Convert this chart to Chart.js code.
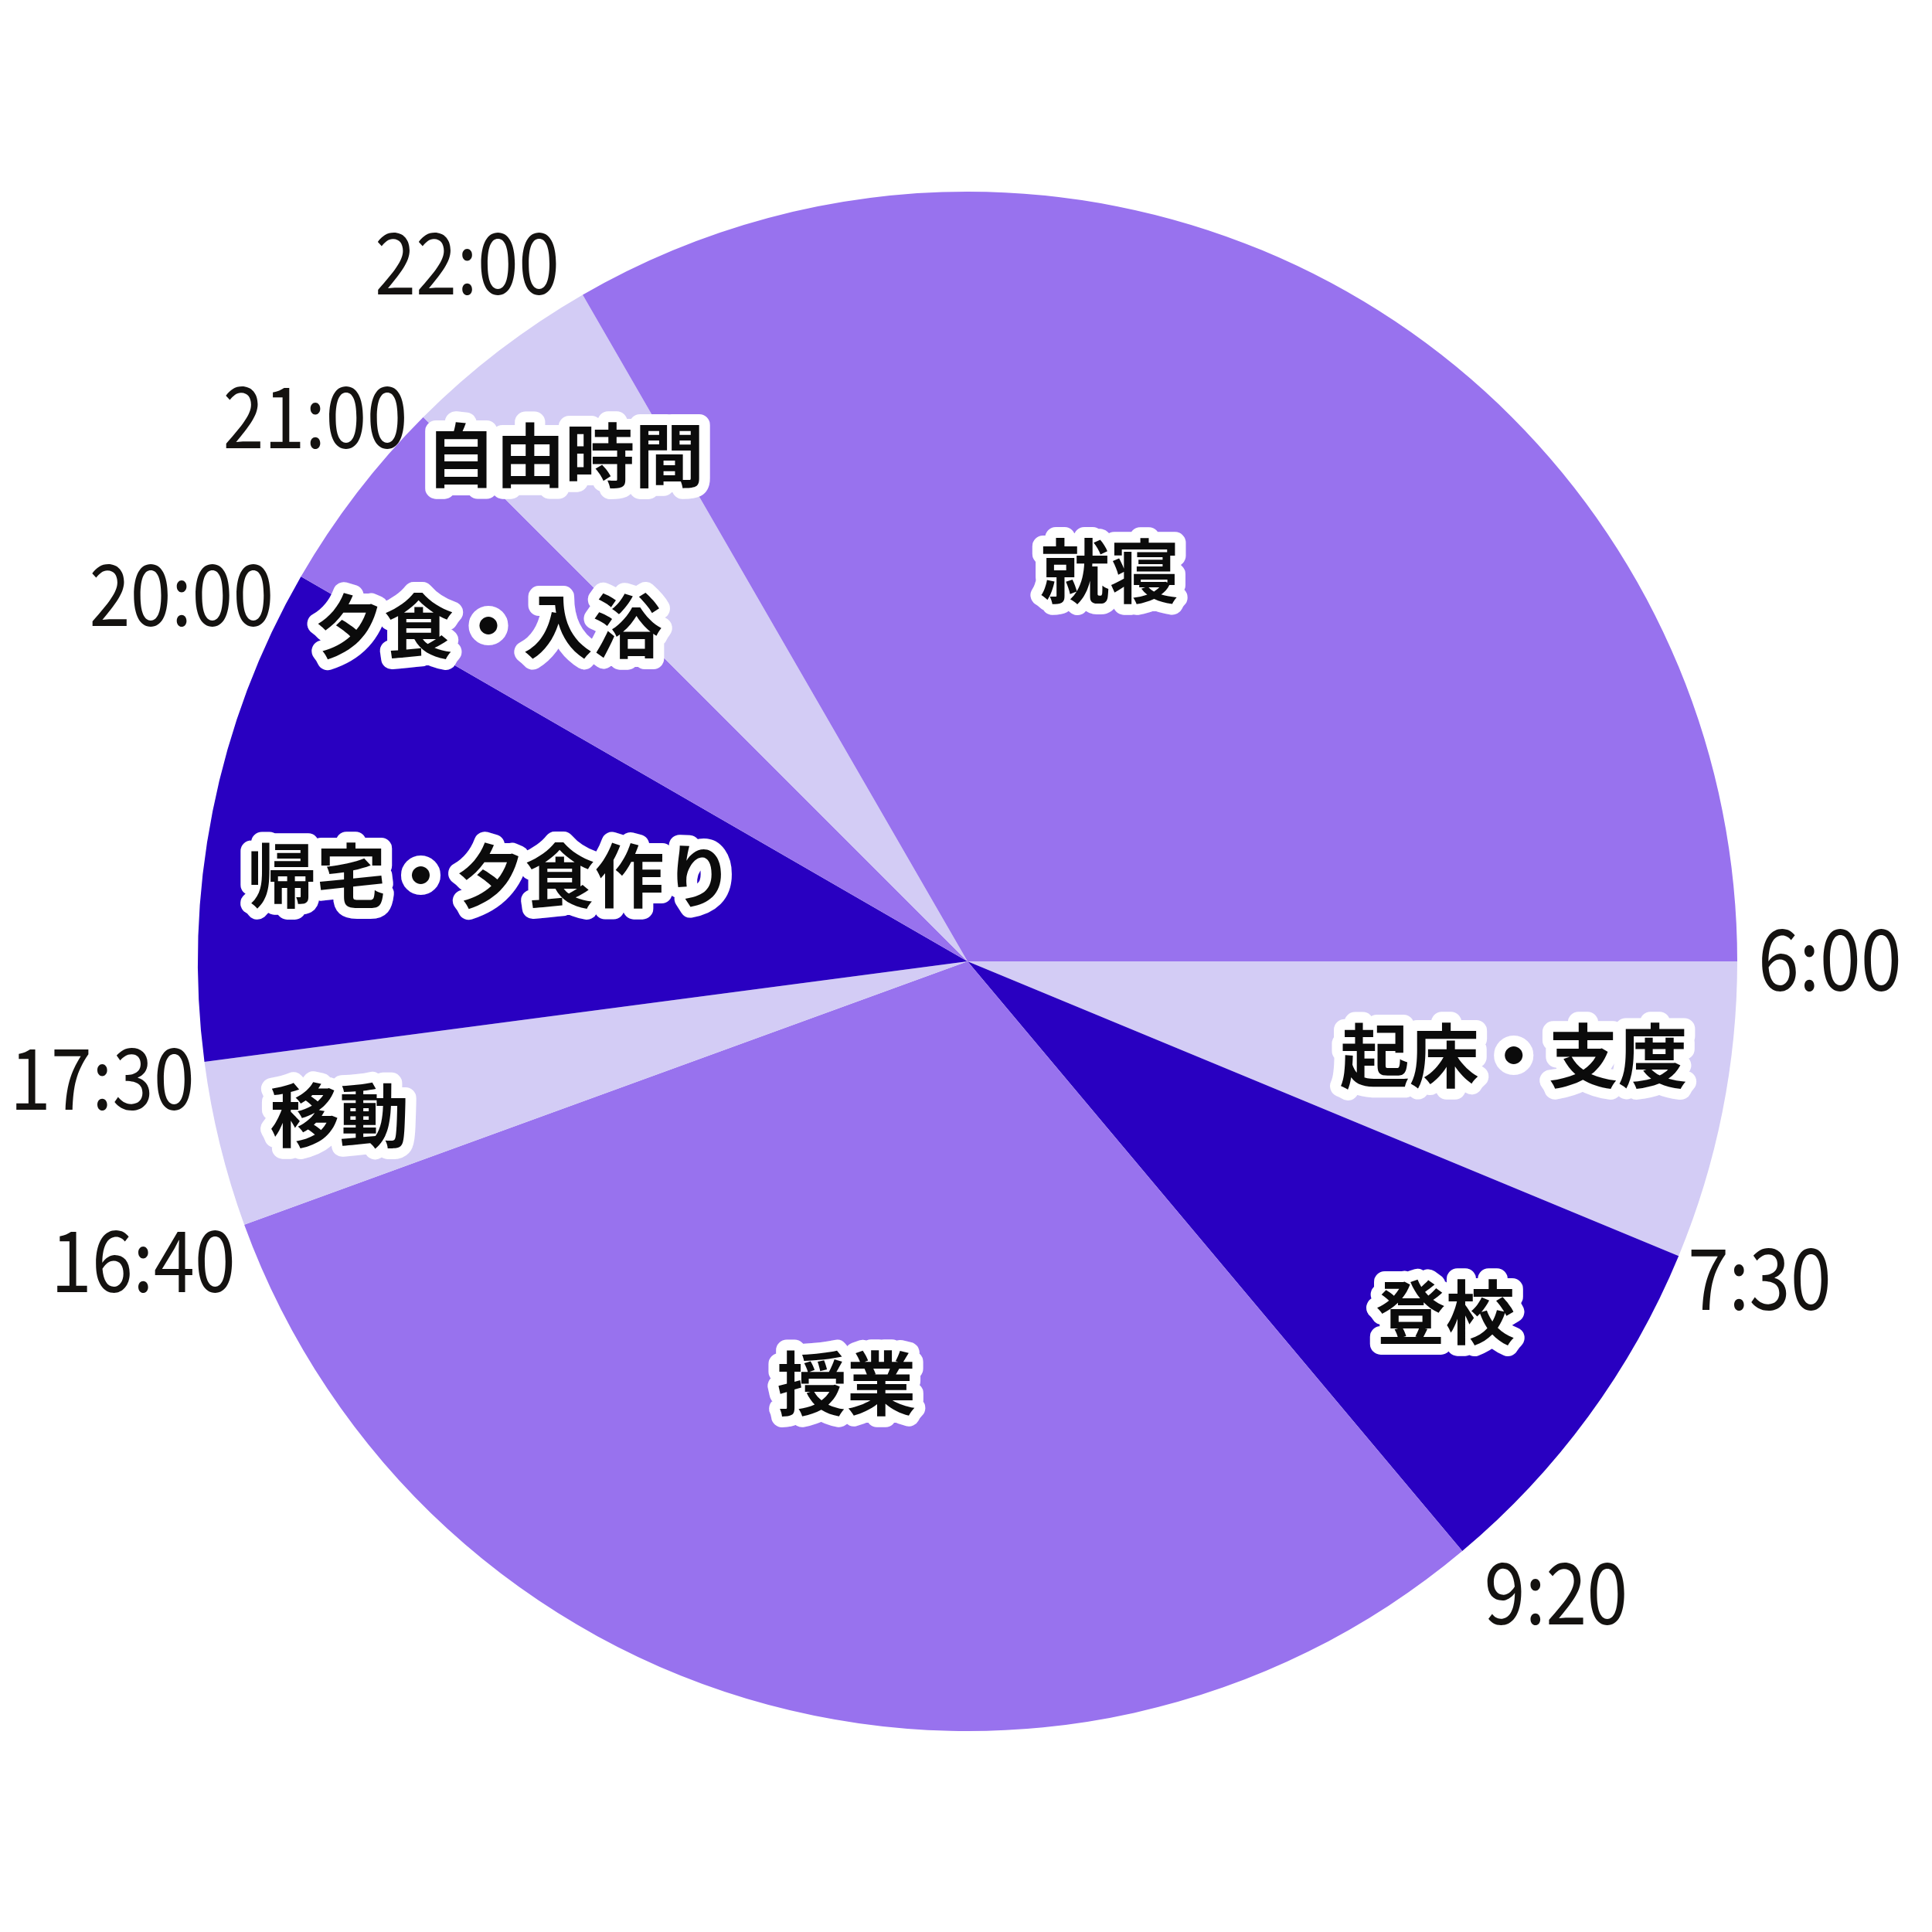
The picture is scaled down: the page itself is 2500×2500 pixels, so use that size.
<!DOCTYPE html>
<html>
<head>
<meta charset="utf-8">
<script src="https://cdn.jsdelivr.net/npm/chart.js@4"></script>
<style>
  html, body { margin: 0; padding: 0; background: #fff; }
  #wrap { width: 2500px; height: 2500px; }
</style>
</head>
<body>
<div id="wrap"><canvas id="pie" width="2500" height="2500"></canvas></div>
<script>
// ---- data: a day in minutes, starting at 6:00 and going clockwise ----
const activities = ["起床・支度", "登校", "授業", "移動", "帰宅・夕食作り", "夕食・入浴", "自由時間", "就寝", "就寝"];
const minutes = [90, 110, 440, 50, 150, 60, 60, 120, 360];
const startTimes = ["6:00", "7:30", "9:20", "16:40", "17:30", "20:00", "21:00", "22:00", ""];
const sliceColors = ["#D3CCF5", "#2900C1", "#9872EE", "#D3CCF5", "#2900C1", "#9872EE", "#D3CCF5", "#9872EE", "#9872EE"];

// label placement inside slices (fraction of radius, angle tweak in degrees)
const inLabel = [
  { r: 0.72, da: -1.5 }, { r: 0.77, da: 0 }, { r: 0.57, da: 1 }, { r: 0.84, da: 0 },
  { r: 0.63, da: -1 }, { r: 0.76, da: -2.5 }, { r: 0.84, da: -1 }, null, { r: 0.54, da: -25 }
];
// small nudges for the time labels outside the pie
const timeNudge = [[-3, -4], [-16, 17], [9, 30], [17, 35], [17, 16], [-9, 37], [1, 20], [-15, -16]];

const FONT_JP = '"Noto Sans CJK JP", sans-serif';

const labelPlugin = {
  id: "dayLabels",
  afterDatasetsDraw(chart) {
    const ctx = chart.ctx;
    const arcs = chart.getDatasetMeta(0).data;
    ctx.save();

    // activity names with white outline (skip the duplicate 就寝 piece)
    ctx.font = "700 90px " + FONT_JP;
    ctx.textAlign = "center";
    ctx.textBaseline = "middle";
    ctx.lineJoin = "round";
    arcs.forEach((arc, i) => {
      const p = inLabel[i];
      if (!p) return;
      const { x, y, startAngle, endAngle, outerRadius } = arc.getProps(["x", "y", "startAngle", "endAngle", "outerRadius"], true);
      const a = (startAngle + endAngle) / 2 + p.da * Math.PI / 180;
      const lx = x + Math.cos(a) * outerRadius * p.r;
      const ly = y + Math.sin(a) * outerRadius * p.r;
      ctx.lineWidth = 28;
      ctx.strokeStyle = "#fff";
      ctx.strokeText(activities[i], lx, ly);
      ctx.fillStyle = "#0b0b0b";
      ctx.fillText(activities[i], lx, ly);
    });

    // clock times at the start of each slice (slightly condensed)
    ctx.font = "400 110px " + FONT_JP;
    ctx.fillStyle = "#141210";
    arcs.forEach((arc, i) => {
      const t = startTimes[i];
      if (!t) return;
      const { x, y, startAngle, outerRadius } = arc.getProps(["x", "y", "startAngle", "outerRadius"], true);
      const r = outerRadius + 30;
      const tx = x + Math.cos(startAngle) * r + timeNudge[i][0];
      const ty = y + Math.sin(startAngle) * r + timeNudge[i][1];
      ctx.textAlign = Math.cos(startAngle) >= -0.01 ? "left" : "right";
      ctx.save();
      ctx.translate(tx, ty);
      ctx.scale(0.87, 1);
      ctx.fillText(t, 0, 0);
      ctx.restore();
    });

    ctx.restore();
  }
};

new Chart(document.getElementById("pie"), {
  type: "pie",
  data: {
    labels: activities,
    datasets: [{
      data: minutes,
      backgroundColor: sliceColors,
      borderWidth: 0
    }]
  },
  options: {
    responsive: false,
    animation: false,
    rotation: 90,
    layout: { padding: { left: 256, right: 252, top: 248, bottom: 260 } },
    plugins: {
      legend: { display: false },
      tooltip: { enabled: false }
    }
  },
  plugins: [labelPlugin]
});
</script>
</body>
</html>
